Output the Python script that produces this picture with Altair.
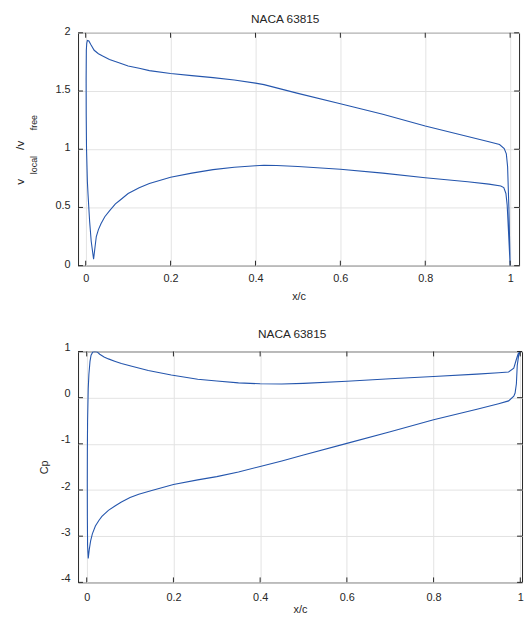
import altair as alt
import pandas as pd

# ---------------- data ----------------
chart_title = "NACA 63815"
x_title = "x/c"
cp_title = "Cp"
ylabel_parts = ["v", "local", "/v", "free"]

x_ticks = [0, 0.2, 0.4, 0.6, 0.8, 1]
v_ticks = [0, 0.5, 1, 1.5, 2]
cp_ticks = [-4, -3, -2, -1, 0, 1]

# velocity ratio, one closed path: TE -> upper surface -> LE -> lower surface -> TE
v_x = [1.0, 0.997, 0.994, 0.991, 0.986, 0.975, 0.95, 0.9, 0.8, 0.7, 0.6, 0.5,
       0.42, 0.4, 0.35, 0.3, 0.25, 0.2, 0.15, 0.126, 0.1, 0.08, 0.056, 0.04,
       0.03, 0.02, 0.012, 0.0075, 0.004, 0.0025, 0.0015, 0.001, 0.0012, 0.002,
       0.004, 0.0054, 0.0093, 0.013, 0.0186, 0.022, 0.025, 0.03, 0.036, 0.045,
       0.056, 0.07, 0.08, 0.1, 0.126, 0.15, 0.2, 0.25, 0.3, 0.35, 0.4, 0.42,
       0.45, 0.5, 0.6, 0.7, 0.8, 0.9, 0.95, 0.978, 0.985, 0.99, 0.993, 0.996, 1.0]
v_y = [0.0, 0.5, 0.85, 0.96, 1.005, 1.04, 1.065, 1.11, 1.20, 1.30, 1.39, 1.48,
       1.555, 1.568, 1.595, 1.615, 1.632, 1.65, 1.675, 1.695, 1.715, 1.74, 1.77, 1.80,
       1.82, 1.85, 1.9, 1.93, 1.935, 1.91, 1.85, 1.6, 1.3, 1.0,
       0.72, 0.62, 0.38, 0.21, 0.055, 0.16, 0.25, 0.31, 0.36, 0.42,
       0.47, 0.53, 0.56, 0.62, 0.67, 0.705, 0.76, 0.795, 0.825, 0.845, 0.858, 0.862,
       0.86, 0.852, 0.828, 0.795, 0.755, 0.72, 0.70, 0.685, 0.67, 0.62, 0.52, 0.3, 0.0]

# pressure coefficient, one closed path
cp_x = [1.0, 0.996, 0.993, 0.991, 0.988, 0.985, 0.973, 0.95, 0.9, 0.8, 0.7, 0.6,
        0.5, 0.45, 0.4, 0.35, 0.3, 0.256, 0.2, 0.15, 0.12, 0.1, 0.08, 0.066,
        0.05, 0.035, 0.028, 0.02, 0.013, 0.009, 0.006, 0.0035, 0.002, 0.0015,
        0.0013, 0.0015, 0.002, 0.0035, 0.005, 0.0075, 0.01, 0.014, 0.018, 0.024,
        0.03, 0.04, 0.05, 0.066, 0.08, 0.104, 0.142, 0.195, 0.256, 0.3, 0.35,
        0.4, 0.45, 0.5, 0.6, 0.7, 0.8, 0.9, 0.95, 0.973, 0.985, 0.99, 0.995, 1.0]
cp_y = [1.0, 0.9, 0.7, 0.3, 0.1, 0.03, -0.07, -0.13, -0.25, -0.48, -0.74, -0.99,
        -1.24, -1.37, -1.49, -1.61, -1.71, -1.78, -1.88, -2.01, -2.09, -2.16, -2.26, -2.34,
        -2.44, -2.57, -2.66, -2.78, -2.95, -3.1, -3.28, -3.48, -3.2, -2.6,
        -1.9, -1.1, -0.5, 0.2, 0.5, 0.78, 0.92, 0.99, 1.0, 0.99,
        0.94, 0.88, 0.84, 0.785, 0.74, 0.68, 0.59, 0.49, 0.4, 0.36, 0.32,
        0.30, 0.295, 0.31, 0.355, 0.41, 0.46, 0.51, 0.54, 0.557, 0.64, 0.8, 0.95, 1.0]

# ---------------- styling ----------------
FONT = "Liberation Sans"
BLUE = "#2556ad"
TXT = "#262626"
GRID = "#e3e3e3"
TICK_LEN = 5
PLAIN = "'' + datum.value"
one = pd.DataFrame({"k": [0]})


def panel(xs, ys, ydom, yticks, xdom, W, H, ytitle, y_label_offset,
          x_label_pad, x_title_pad, title_x, title_y):
    df = pd.DataFrame({"x": xs, "y": ys, "i": list(range(len(xs)))})
    xaxis = alt.Axis(values=x_ticks, title=x_title, grid=True, ticks=False, domain=False,
                     labelPadding=x_label_pad, titlePadding=x_title_pad, labelFlush=False,
                     labelExpr=PLAIN)
    yaxis_kw = dict(values=yticks, grid=True, ticks=False, domain=False,
                    labelPadding=8, labelFlush=False, labelOffset=y_label_offset,
                    labelExpr=PLAIN)
    if ytitle is None:
        yaxis = alt.Axis(title=None, **yaxis_kw)
    else:
        yaxis = alt.Axis(title=ytitle, titlePadding=11, **yaxis_kw)

    line = alt.Chart(df).mark_line(color=BLUE, strokeWidth=1.1, clip=True).encode(
        x=alt.X("x:Q", scale=alt.Scale(domain=xdom, nice=False, zero=False), axis=xaxis),
        y=alt.Y("y:Q", scale=alt.Scale(domain=ydom, nice=False, zero=False), axis=yaxis),
        order=alt.Order("i:Q"),
    )

    xt = pd.DataFrame({"x": x_ticks})
    yt = pd.DataFrame({"y": yticks})
    tick_style = dict(color=TXT, strokeWidth=1)
    xb = alt.Chart(xt).mark_rule(**tick_style).encode(
        x="x:Q", y=alt.value(H), y2=alt.value(H - TICK_LEN))
    xtop = alt.Chart(xt).mark_rule(**tick_style).encode(
        x="x:Q", y=alt.value(0), y2=alt.value(TICK_LEN))
    yl = alt.Chart(yt).mark_rule(**tick_style).encode(
        y="y:Q", x=alt.value(0), x2=alt.value(TICK_LEN))
    yr = alt.Chart(yt).mark_rule(**tick_style).encode(
        y="y:Q", x=alt.value(W - TICK_LEN), x2=alt.value(W))

    ttl = alt.Chart(one).mark_text(text=chart_title, font=FONT, fontSize=12, color=TXT,
                                   align="center", baseline="middle").encode(
        x=alt.value(title_x), y=alt.value(title_y))

    return [line, xb, xtop, yl, yr, ttl]


# top panel
W1, H1 = 447, 236
top_layers = panel(v_x, v_y, [0, 2], v_ticks, [-0.018, 1.021], W1, H1, None, -1.5,
                   7, 7, 210, -14)

lab_specs = [
    (ylabel_parts[0], 12, -59, 151),
    (ylabel_parts[1], 9, -45, 134),
    (ylabel_parts[2], 12, -59, 114),
    (ylabel_parts[3], 9, -45, 91),
]
for txt, fs, px, py in lab_specs:
    top_layers.append(
        alt.Chart(one).mark_text(text=txt, font=FONT, fontSize=fs, color=TXT, angle=270,
                                 align="center", baseline="middle").encode(
            x=alt.value(px), y=alt.value(py))
    )

top = alt.layer(*top_layers).properties(width=W1, height=H1)

# bottom panel
W2, H2 = 450, 234
bot_layers = panel(cp_x, cp_y, [-4, 1], cp_ticks, [-0.02, 1.004], W2, H2, cp_title, -4,
                   9, 2, 217, -18)
bottom = alt.layer(*bot_layers).properties(width=W2, height=H2)

chart = alt.vconcat(top, bottom, spacing=25).properties(
    padding={"left": 5, "top": 0, "right": 0, "bottom": 0}
).configure_view(
    stroke=TXT, strokeWidth=1
).configure_axis(
    gridColor=GRID, gridWidth=1,
    labelFont=FONT, labelFontSize=11, labelColor=TXT,
    titleFont=FONT, titleFontSize=11, titleFontWeight="normal", titleColor=TXT,
)

chart.save("out.html", embed_options={"renderer": "svg", "actions": False})
